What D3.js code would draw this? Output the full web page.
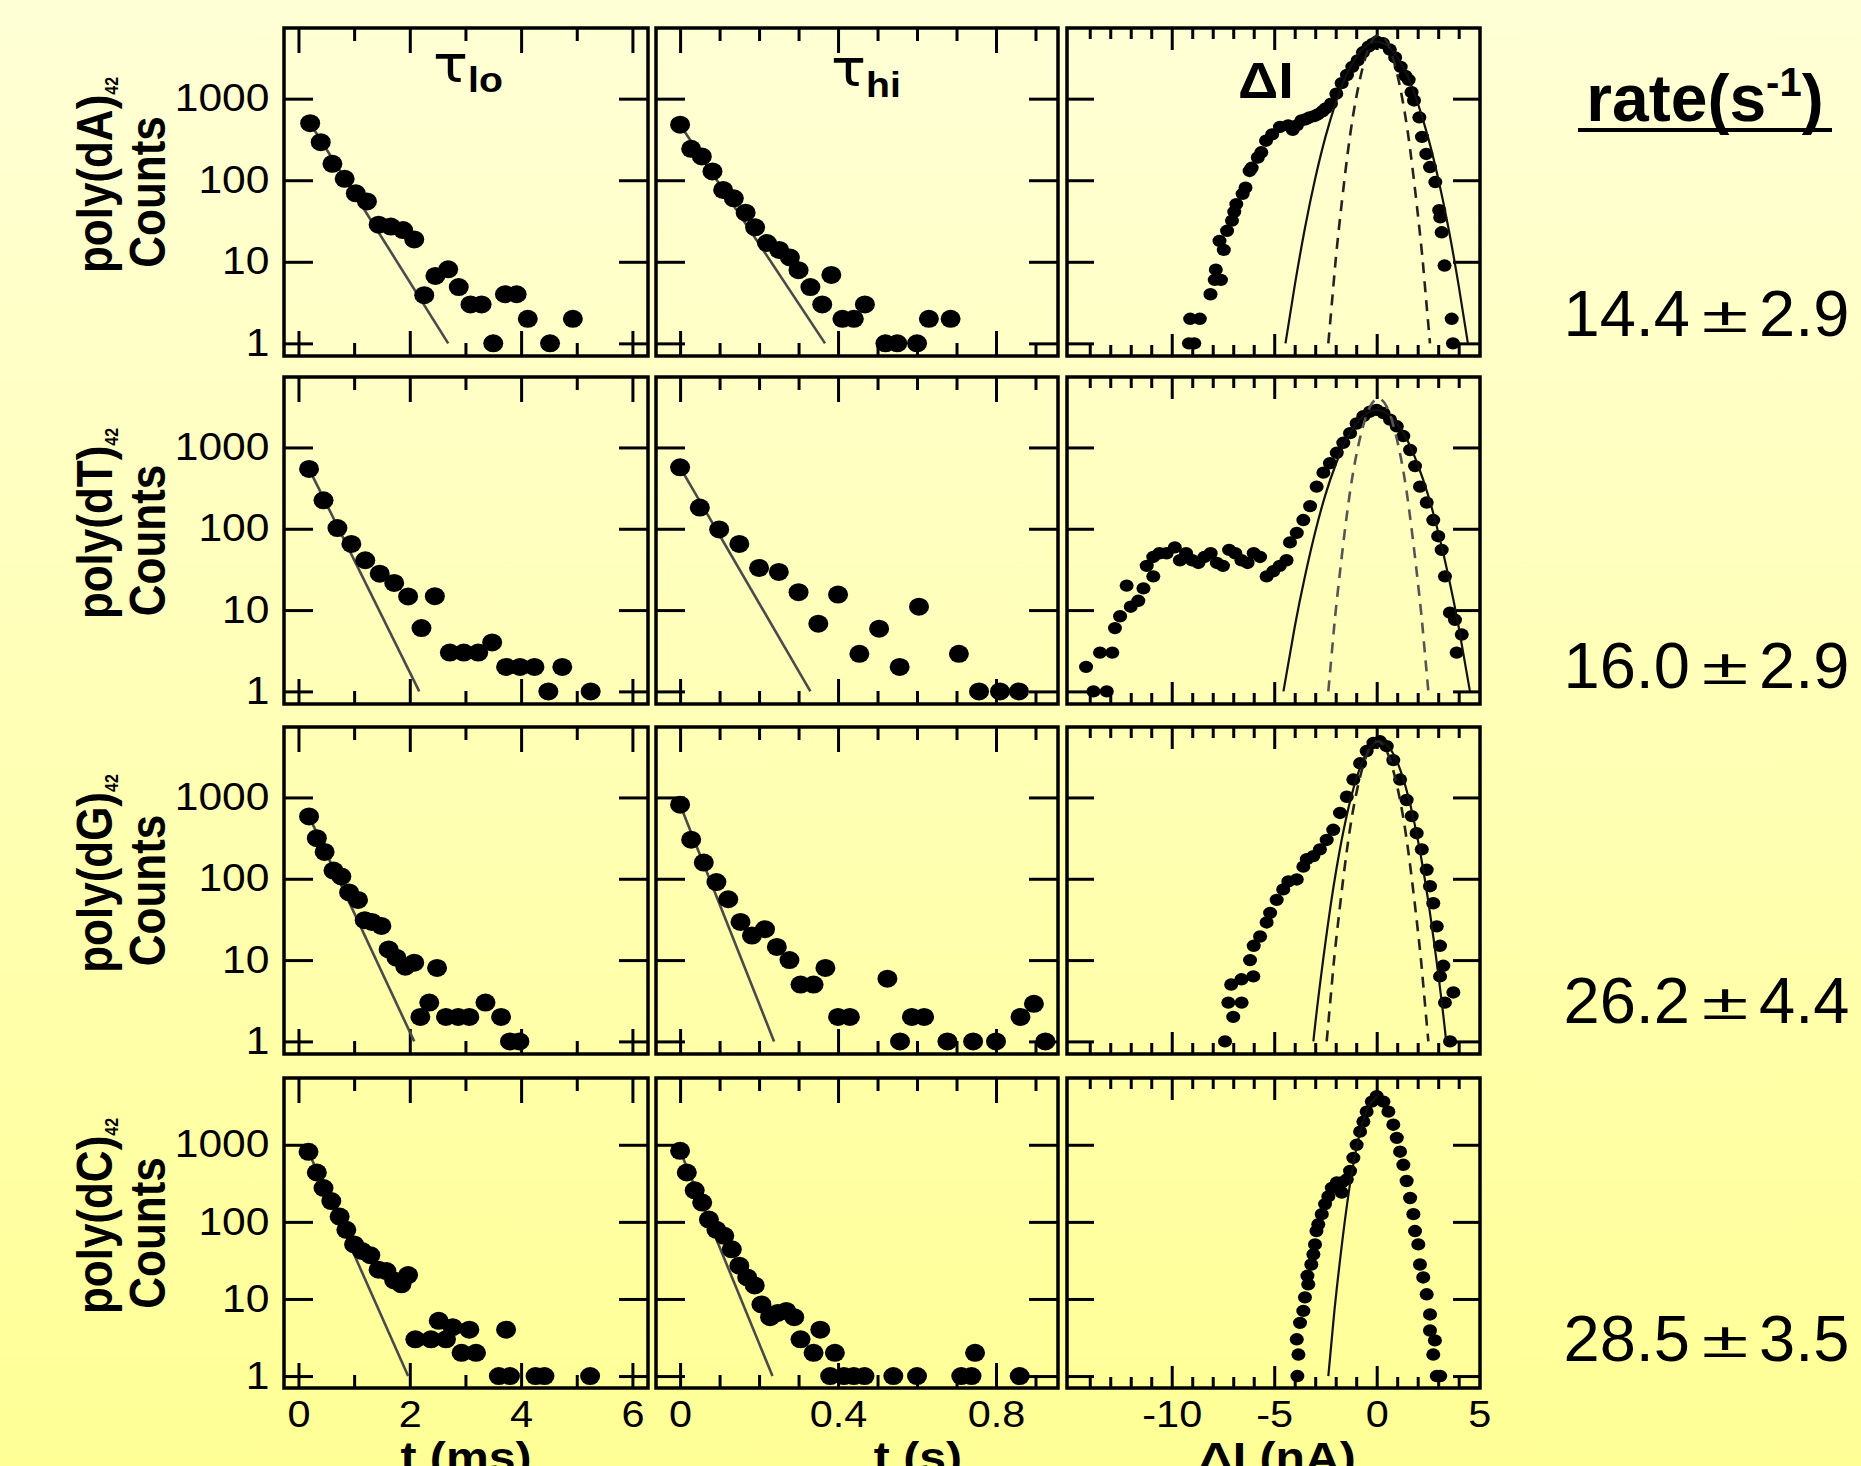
<!DOCTYPE html>
<html>
<head>
<meta charset="utf-8">
<script src="https://cdn.jsdelivr.net/npm/d3@7"></script>
<style>
  html, body { margin: 0; padding: 0; }
  body { width: 1861px; height: 1466px; overflow: hidden; }
  svg { display: block; }
  text { font-family: "Liberation Sans", Arial, sans-serif; fill: #000; }
</style>
</head>
<body>
<div id="vis"></div>
<script>
// Panel frames (px)
const colX = [[284, 648], [656, 1058], [1067, 1480]]
const rowY = [[28, 356], [377, 704], [727, 1054], [1078, 1388]]

// Labels
const polyNames = ["poly(dA)", "poly(dT)", "poly(dG)", "poly(dC)"]
const rateVal = ["14.4", "16.0", "26.2", "28.5"]
const rateErr = ["2.9", "2.9", "4.4", "3.5"]
const countTicks = [1, 10, 100, 1000]
const loMajor = [0, 2, 4, 6], loMinor = [1, 3, 5]
const hiMajor = [0, 0.4, 0.8], hiMinor = [0.1, 0.2, 0.3, 0.5, 0.6, 0.7, 0.9]
const dIMajor = [-10, -5, 0], dIMinor = [-14, -13, -12, -11, -9, -8, -7, -6, -4, -3, -2, -1, 1, 2, 3, 4]
const loLabels = [0, 2, 4, 6], hiLabels = [0, 0.4, 0.8], dILabels = [-10, -5, 0, 5]

// tau_lo histograms: [t (ms), counts]
const loA = [[0.21,500],[0.40,293],[0.61,159],[0.83,104],[1.03,69],[1.23,55],[1.44,28.5],[1.66,27],[1.88,24.5],[2.08,18.8],[2.26,3.9],[2.46,6.7],[2.69,8.1],[2.88,4.9],[3.09,3],[3.29,3],[3.50,1],[3.71,4],[3.92,4],[4.12,2],[4.52,1],[4.93,2]]
const loT = [[0.19,545],[0.45,224],[0.70,102],[0.95,65],[1.20,41],[1.46,28],[1.72,21.6],[1.97,14.7],[2.21,6],[2.45,14.8],[2.72,3],[2.97,3],[3.23,3],[3.48,4],[3.73,2],[3.98,2],[4.24,2],[4.49,1],[4.74,2],[5.25,1]]
const loG = [[0.19,585],[0.33,316],[0.47,214],[0.63,126],[0.77,107],[0.91,68],[1.07,55],[1.19,31],[1.32,29.5],[1.49,26.3],[1.62,13.5],[1.76,10.7],[1.92,8.3],[2.08,9.3],[2.49,8],[2.19,2],[2.35,3],[2.65,2],[2.87,2],[3.07,2],[3.36,3],[3.64,2],[3.80,1],[3.97,1]]
const loC = [[0.18,810],[0.33,437],[0.45,275],[0.59,186],[0.74,117],[0.86,79],[1.0,51],[1.14,42],[1.29,37],[1.44,24],[1.58,23],[1.72,17.4],[1.85,15.5],[1.97,20.4],[2.10,3],[2.38,3],[2.52,5.2],[2.65,3],[2.77,4.3],[2.93,2],[3.07,4],[3.19,2],[3.6,1],[3.8,1],[3.73,4],[4.26,1],[4.42,1],[5.24,1]]

// tau_hi histograms: [t (s), counts]
const hiA = [[0.0,480],[0.028,243],[0.055,196],[0.082,128],[0.109,76],[0.136,60],[0.166,40],[0.19,26.5],[0.22,17],[0.251,14],[0.278,11.3],[0.30,7.9],[0.33,4.9],[0.383,6.9],[0.36,3],[0.411,2],[0.44,2],[0.468,3],[0.52,1],[0.55,1],[0.60,1],[0.63,2],[0.685,2]]
const hiT = [[0.0,570],[0.05,182],[0.099,98],[0.15,65],[0.2,33],[0.25,29.5],[0.30,16.6],[0.35,6.8],[0.40,15.5],[0.454,2.9],[0.504,5.9],[0.556,2],[0.605,11],[0.706,2.9],[0.757,1],[0.81,1],[0.858,1]]
const hiG = [[0.0,815],[0.028,302],[0.06,158],[0.092,91],[0.122,56],[0.153,29.5],[0.182,20],[0.215,24],[0.245,14.5],[0.277,10],[0.305,5],[0.338,5],[0.368,8],[0.40,2],[0.43,2],[0.525,5.9],[0.557,1],[0.587,2],[0.618,2],[0.677,1],[0.742,1],[0.80,1],[0.862,2],[0.896,2.9],[0.925,1]]
const hiC = [[0.0,835],[0.017,437],[0.037,257],[0.056,178],[0.073,107],[0.092,79],[0.112,66],[0.131,44],[0.15,27],[0.17,19],[0.189,15],[0.206,8.5],[0.228,5.8],[0.247,6.6],[0.269,7],[0.289,5.8],[0.305,3],[0.338,2],[0.355,4],[0.392,2],[0.38,1],[0.415,1],[0.44,1],[0.467,1],[0.54,1],[0.60,1],[0.712,1],[0.738,1],[0.747,2],[0.86,1]]

// single-exponential fits (end points on the log axis)
const fitLoA = [[0.21,500],[2.69,1]], fitLoT = [[0.19,545],[2.17,1]], fitLoG = [[0.19,585],[2.08,1]], fitLoC = [[0.18,810],[1.97,1]]
const fitHiA = [[0.0,480],[0.367,1]], fitHiT = [[0.0,570],[0.33,1]], fitHiG = [[0.0,815],[0.238,1]], fitHiC = [[0.0,835],[0.234,1]]

// Delta I histograms: [dI (nA), counts]
const dIA = [[-9.16,1],[-8.9,1],[-9.1,2],[-8.63,2],[-8.11,4],[-7.9,6],[-7.6,6],[-7.85,8],[-7.46,14],[-7.67,18],[-7.3,24],[-7.06,32],[-6.95,41],[-6.85,51],[-6.54,68],[-6.4,81],[-6.2,130],[-6.1,142],[-5.8,190],[-5.63,220],[-5.4,305],[-5.1,365],[-4.72,450],[-4.32,470],[-4.1,415],[-3.9,470],[-3.67,540],[-3.45,560],[-3.28,590],[-3.05,610],[-2.88,640],[-2.65,700],[-2.49,760],[-2.23,870],[-1.97,1150],[-1.71,1550],[-1.45,1950],[-1.19,2450],[-0.93,2950],[-0.67,3700],[-0.4,4350],[-0.2,4700],[0,5000],[0.3,4800],[0.64,4000],[0.9,3200],[1.17,2450],[1.4,1900],[1.56,1700],[1.7,1200],[1.82,950],[2.08,590],[2.21,340],[2.42,210],[2.6,145],[2.86,95],[3.05,43],[3.1,35],[3.17,23],[3.31,9],[3.66,2],[3.72,1]]
const dIT = [[-14.18,2],[-13.82,1],[-13.17,1],[-13.5,3],[-12.9,3],[-12.77,6],[-12.52,8.4],[-12.2,20],[-12.0,11],[-11.63,13],[-11.38,18.5],[-11.22,35],[-10.9,26],[-10.9,45],[-10.6,50],[-10.25,50],[-9.85,59],[-9.6,41],[-9.3,50],[-9.0,41],[-8.7,38],[-8.4,45],[-8.1,50],[-7.8,38],[-7.5,35],[-7.2,55],[-6.9,50],[-6.6,41],[-6.3,38],[-6.0,50],[-5.69,45],[-5.37,26],[-5.05,30],[-4.73,35],[-4.4,41],[-4.23,68],[-3.9,89],[-3.58,128],[-3.25,190],[-2.93,330],[-2.6,490],[-2.28,640],[-1.95,860],[-1.63,1140],[-1.3,1500],[-0.98,1970],[-0.65,2420],[-0.33,2750],[0,2900],[0.33,2650],[0.65,2200],[0.98,1820],[1.3,1380],[1.63,930],[1.87,590],[2.11,330],[2.44,210],[2.76,128],[3.0,81],[3.17,55],[3.33,26],[3.57,9.3],[3.82,7.6],[4.15,5],[3.9,3]]
const dIG = [[-7.4,1],[-7.0,2],[-7.24,3],[-6.59,3],[-7.1,5],[-6.6,5.8],[-6.02,6.3],[-6.18,10],[-6.0,15],[-5.69,19.5],[-5.37,29],[-5.2,38],[-4.88,55],[-4.56,74],[-4.31,93],[-3.9,98],[-3.58,141],[-3.41,174],[-3.09,190],[-2.77,230],[-2.44,300],[-2.12,400],[-1.79,645],[-1.46,1020],[-1.14,1660],[-0.81,2630],[-0.49,3720],[-0.16,4680],[0.16,4900],[0.49,4270],[0.81,2880],[1.14,1660],[1.46,930],[1.71,590],[1.95,363],[2.2,230],[2.44,129],[2.6,81],[2.76,50],[2.93,26],[3.09,15],[3.25,8.5],[3.09,6.3],[3.74,4],[3.33,3],[3.58,1]]
const dIC = [[-3.87,1],[-3.82,1.9],[-3.9,3],[-3.74,4.9],[-3.58,7],[-3.5,10.5],[-3.34,15.5],[-3.38,20],[-3.19,28],[-3.09,38],[-3.01,51],[-2.94,76],[-2.85,93],[-2.68,126],[-2.52,170],[-2.36,214],[-2.19,275],[-1.95,324],[-1.71,324],[-1.71,240],[-1.46,355],[-1.3,457],[-1.14,676],[-0.98,1000],[-0.81,1480],[-0.65,2000],[-0.49,2690],[-0.24,3630],[0,4270],[0.33,3630],[0.57,2690],[0.81,1820],[0.98,1230],[1.14,813],[1.3,550],[1.46,339],[1.63,204],[1.79,126],[1.87,76],[2.03,51],[2.11,28],[2.27,19],[2.44,11.5],[2.6,6.3],[2.6,3.9],[2.84,2.9],[2.76,1.9],[2.93,1],[3.1,1]]

// Gaussian fit curves
const gSolidA = [[-4.45,1],[-4,5.1],[-3.5,26],[-3,105],[-2.5,340],[-2,890],[-1.5,1900],[-1,3240],[-0.5,4470],[0,5000],[0.5,4470],[1,3240],[1.5,1900],[2,890],[2.5,340],[3,105],[3.5,26],[4,5.1],[4.45,1]]
const gDashA = [[-2.36,1],[-2.08,6.3],[-1.88,21],[-1.38,251],[-0.88,1460],[-0.38,4270],[0.12,6030],[0.62,4270],[1.12,1460],[1.62,251],[2.12,21],[2.32,6.3],[2.6,1]]
const gSolidT = [[-4.55,1],[-4,6.2],[-3.5,26],[-3,91],[-2.5,263],[-2,617],[-1.5,1216],[-1,1950],[-0.5,2630],[0,2884],[0.5,2630],[1,1950],[1.5,1216],[2,617],[2.5,263],[3,91],[3.5,26],[4,6.2],[4.55,1]]
const gDashT = [[-2.36,1],[-2.12,4.7],[-1.92,15.1],[-1.42,174],[-0.92,989],[-0.42,2818],[0.08,3981],[0.58,2818],[1.08,989],[1.58,174],[2.08,15.1],[2.28,4.7],[2.52,1]]
const gSolidG = [[-3.09,1],[-2.85,3.4],[-2.35,31],[-1.85,193],[-1.35,794],[-0.85,2188],[-0.35,3981],[0.15,4898],[0.65,3981],[1.15,2188],[1.65,794],[2.15,193],[2.65,31],[3.15,3.4],[3.39,1]]
const gDashG = [[-2.44,1],[-2.16,6.1],[-1.96,19.5],[-1.46,219],[-0.96,1230],[-0.46,3467],[0.04,4898],[0.54,3467],[1.04,1230],[1.54,219],[2.04,19.5],[2.24,6.1],[2.52,1]]
const gSolidC = [[-2.36,1],[-2.15,4],[-1.95,13.5],[-1.45,166],[-0.95,1012],[-0.45,2951],[0.05,4266]]

const loRows = [loA, loT, loG, loC], hiRows = [hiA, hiT, hiG, hiC], dIRows = [dIA, dIT, dIG, dIC]
const fitLoRows = [fitLoA, fitLoT, fitLoG, fitLoC], fitHiRows = [fitHiA, fitHiT, fitHiG, fitHiC]
const solidRows = [gSolidA, gSolidT, gSolidG, gSolidC], dashRows = [gDashA, gDashT, gDashG, null]

// text positions
const rateBase = [336, 688, 1023, 1361]
const axisTitleX = [466, 918, 1277]
const SX = 1.12   // the original figure is a bit stretched sideways

const svg = d3.select("#vis").append("svg")
    .attr("width", 1861)
    .attr("height", 1466)

const grad = svg.append("defs").append("linearGradient")
    .attr("id", "bg").attr("x1", 0).attr("y1", 0).attr("x2", 0).attr("y2", 1)
grad.append("stop").attr("offset", "0%").attr("stop-color", "#ffffd6")
grad.append("stop").attr("offset", "100%").attr("stop-color", "#ffff96")
svg.append("rect").attr("width", 1861).attr("height", 1466).attr("fill", "url(#bg)")

const yScales = rowY.map(r => d3.scaleLog().domain([0.7, 7350]).range([r[1], r[0]]))
const xLo = d3.scaleLinear().domain([-0.26, 6.28]).range(colX[0])
const xHi = d3.scaleLinear().domain([-0.061, 0.957]).range(colX[1])
const xDI = d3.scaleLinear().domain([-15.11, 5.04]).range(colX[2])

const cols = [
    {x: xLo, major: loMajor, minor: loMinor, lenMaj: 25, lenMin: 13, ytick: 29, labels: loLabels},
    {x: xHi, major: hiMajor, minor: hiMinor, lenMaj: 25, lenMin: 13, ytick: 29, labels: hiLabels},
    {x: xDI, major: dIMajor, minor: dIMinor, lenMaj: 22, lenMin: 11, ytick: 27, labels: dILabels}
]

function tidy(g){
    g.select(".domain").remove()
    g.selectAll("line").attr("stroke", "#000").attr("stroke-width", 3)
}

function drawFrame(ci, ri){
    const c = cols[ci], y = yScales[ri]
    const [x0, x1] = colX[ci], [y0, y1] = rowY[ri]
    const g = svg.append("g")

    g.append("g").attr("transform", `translate(${x0},0)`)
        .call(d3.axisRight(y).tickValues(countTicks).tickSize(c.ytick).tickFormat("")).call(tidy)
    g.append("g").attr("transform", `translate(${x1},0)`)
        .call(d3.axisLeft(y).tickValues(countTicks).tickSize(c.ytick).tickFormat("")).call(tidy)
    g.append("g").attr("transform", `translate(0,${y1})`)
        .call(d3.axisTop(c.x).tickValues(c.major).tickSize(c.lenMaj).tickFormat("")).call(tidy)
    g.append("g").attr("transform", `translate(0,${y1})`)
        .call(d3.axisTop(c.x).tickValues(c.minor).tickSize(c.lenMin).tickFormat("")).call(tidy)
    g.append("g").attr("transform", `translate(0,${y0})`)
        .call(d3.axisBottom(c.x).tickValues(c.major).tickSize(c.lenMaj).tickFormat("")).call(tidy)
    g.append("g").attr("transform", `translate(0,${y0})`)
        .call(d3.axisBottom(c.x).tickValues(c.minor).tickSize(c.lenMin).tickFormat("")).call(tidy)

    g.append("rect")
        .attr("x", x0).attr("y", y0)
        .attr("width", x1 - x0).attr("height", y1 - y0)
        .attr("fill", "none").attr("stroke", "#000").attr("stroke-width", 3.5)
    return g
}

function dots(g, data, x, y, rx, ry){
    g.append("g").selectAll("ellipse")
        .data(data)
        .join("ellipse")
        .attr("cx", d => x(d[0]))
        .attr("cy", d => y(d[1]))
        .attr("rx", rx).attr("ry", ry)
        .attr("fill", "#000")
}

rowY.forEach((r, ri) => {
    const y = yScales[ri]

    // tau_lo
    let g = drawFrame(0, ri)
    g.append("path")
        .attr("d", d3.line().x(d => xLo(d[0])).y(d => y(d[1]))(fitLoRows[ri]))
        .attr("fill", "none").attr("stroke", "#4a4a4a").attr("stroke-width", 2.6)
    dots(g, loRows[ri], xLo, y, 10, 9)

    // tau_hi
    g = drawFrame(1, ri)
    g.append("path")
        .attr("d", d3.line().x(d => xHi(d[0])).y(d => y(d[1]))(fitHiRows[ri]))
        .attr("fill", "none").attr("stroke", "#4a4a4a").attr("stroke-width", 2.6)
    dots(g, hiRows[ri], xHi, y, 10, 9)

    // delta I
    g = drawFrame(2, ri)
    dots(g, dIRows[ri], xDI, y, 7, 6.2)
    const curve = d3.line().curve(d3.curveNatural).x(d => xDI(d[0])).y(d => y(d[1]))
    g.append("path")
        .attr("d", curve(solidRows[ri]))
        .attr("fill", "none").attr("stroke", "#111").attr("stroke-width", 2.2)
    if (dashRows[ri]) {
        g.append("path")
            .attr("d", curve(dashRows[ri]))
            .attr("fill", "none").attr("stroke", ri === 1 ? "#555" : "#222")
            .attr("stroke-width", 2.6).attr("stroke-dasharray", "11,8")
    }

    // count tick labels on the left column
    const yl = svg.append("g").attr("transform", `translate(${colX[0][0]},0)`)
        .call(d3.axisLeft(y).tickValues(countTicks).tickSize(0).tickPadding(13).tickFormat(d => String(d)))
    yl.select(".domain").remove()
    yl.selectAll("text")
        .attr("font-size", 38).attr("font-family", "Liberation Sans, Arial, sans-serif")
        .attr("transform", `scale(${SX},1)`)

    // row label
    const cy = (r[0] + r[1]) / 2
    const t1 = svg.append("g").attr("transform", `translate(112,${cy - 17}) scale(${SX},1) rotate(-90)`)
        .append("text").attr("text-anchor", "middle")
        .attr("font-size", 44).attr("font-weight", "bold")
    t1.append("tspan").text(polyNames[ri])
    t1.append("tspan").attr("font-size", 16).attr("dy", 5).text("42")
    svg.append("g").attr("transform", `translate(165,${cy}) scale(${SX},1) rotate(-90)`)
        .append("text").attr("text-anchor", "middle")
        .attr("font-size", 44).attr("font-weight", "bold")
        .text("Counts")

    // rate value
    svg.append("text").attr("x", 1690).attr("y", rateBase[ri])
        .attr("text-anchor", "end").attr("font-size", 65).text(rateVal[ri])
    svg.append("g").attr("transform", `translate(1725,${rateBase[ri] - 4}) scale(1.7,1)`)
        .append("text").attr("text-anchor", "middle")
        .attr("font-family", "DejaVu Sans").attr("font-weight", 200)
        .attr("font-size", 50).text("±")
    svg.append("text").attr("x", 1759).attr("y", rateBase[ri])
        .attr("text-anchor", "start").attr("font-size", 65).text(rateErr[ri])
})

// bottom tick labels and axis titles
const xTitles = ["t (ms)", "t (s)", "ΔI (nA)"]
cols.forEach((c, ci) => {
    const xl = svg.append("g").attr("transform", `translate(0,${rowY[3][1]})`)
        .call(d3.axisBottom(c.x).tickValues(c.labels).tickSize(0).tickPadding(13).tickFormat(d => String(d)))
    xl.select(".domain").remove()
    xl.selectAll("text")
        .attr("font-size", 37).attr("font-family", "Liberation Sans, Arial, sans-serif")
        .attr("transform", `scale(${SX},1)`)
    svg.append("g").attr("transform", `translate(${axisTitleX[ci]},1472) scale(${SX},1)`)
        .append("text").attr("text-anchor", "middle")
        .attr("font-size", 43).attr("font-weight", "bold")
        .text(xTitles[ci])
})

// column titles
const tauLo = svg.append("g").attr("transform", `translate(468,82) scale(${SX},1)`)
    .append("text").attr("text-anchor", "middle")
tauLo.append("tspan").attr("font-family", "DejaVu Sans").attr("font-size", 52).text("τ")
tauLo.append("tspan").attr("font-size", 35).attr("font-weight", "bold").attr("dy", 10).text("lo")

const tauHi = svg.append("g").attr("transform", `translate(866,86) scale(${SX},1)`)
    .append("text").attr("text-anchor", "middle")
tauHi.append("tspan").attr("font-family", "DejaVu Sans").attr("font-size", 52).text("τ")
tauHi.append("tspan").attr("font-size", 35).attr("font-weight", "bold").attr("dy", 11).text("hi")

svg.append("g").attr("transform", `translate(1266,98) scale(${SX},1)`)
    .append("text").attr("text-anchor", "middle")
    .attr("font-size", 50).attr("font-weight", "bold")
    .text("ΔI")

// rate header
const rt = svg.append("text").attr("x", 1705).attr("y", 121)
    .attr("text-anchor", "middle").attr("font-size", 66).attr("font-weight", "bold")
rt.append("tspan").text("rate(s")
rt.append("tspan").attr("font-size", 40).attr("dy", -25).text("-1")
rt.append("tspan").attr("dy", 25).text(")")
svg.append("line")
    .attr("x1", 1578).attr("x2", 1832).attr("y1", 130).attr("y2", 130)
    .attr("stroke", "#000").attr("stroke-width", 4)
</script>
</body>
</html>
